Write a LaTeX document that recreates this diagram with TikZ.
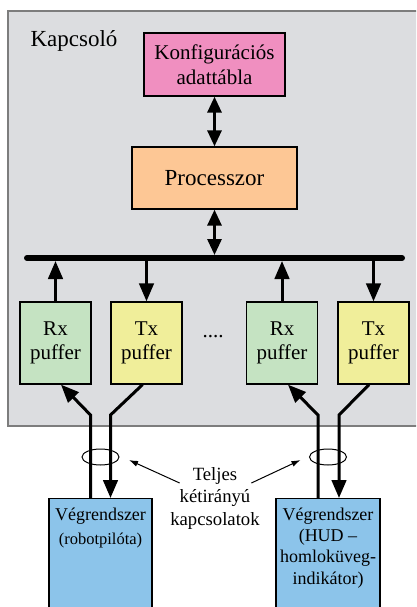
\documentclass[tikz,border=0pt]{standalone}
\usepackage{fontspec}
\setmainfont{Liberation Serif}
\usetikzlibrary{positioning, shapes.geometric, arrows.meta, calc}
\definecolor{szurke}{RGB}{220, 221, 224}
\definecolor{keret}{RGB}{125, 125, 125}
\definecolor{rozsaszin}{RGB}{240, 143, 192}
\definecolor{narancs}{RGB}{253, 199, 149}
\definecolor{zold}{RGB}{197, 227, 194}
\definecolor{sarga}{RGB}{240, 238, 154}
\definecolor{kek}{RGB}{140, 196, 234}
\tikzset{
  doboz/.style={draw=black, line width=1.3pt, inner sep=0pt, align=center},
  puffer/.style={doboz, minimum width=71pt, minimum height=82pt, font=\fontsize{21}{24}\selectfont},
  vegrendszer/.style={doboz, anchor=north, inner ysep=9pt, text depth=90pt, fill=kek},
  vonal/.style={line width=3pt},
  nyil/.style={-{Triangle[length=18pt,width=14.5pt]}},
  nyilvissza/.style={{Triangle[length=18pt,width=14.5pt]}-},
  ketnyil/.style={{Triangle[length=16pt,width=14pt]}-{Triangle[length=16pt,width=14pt]}},
  vekony/.style={line width=1pt, -{Latex[length=9pt,width=6pt]}}
}
\begin{document}
\begin{tikzpicture}[x=1pt, y=1pt]
    \useasboundingbox (0,0) rectangle (416,-607);
    \clip (0,0) rectangle (416,-607);
    % a kapcsoló szürke háttere
    \draw[fill=szurke, draw=keret, line width=1.5pt] (8,-11) rectangle (425,-426);
    \node[anchor=base west, font=\fontsize{23}{26}\selectfont] (cim) at (27,-47) {Kapcsoló};
    \node[doboz, fill=rozsaszin, minimum width=141pt, minimum height=63pt, font=\fontsize{21}{25}\selectfont] (konf) at (214.5,-64.5) {Konfigurációs\\adattábla};
    \node[doboz, fill=narancs, minimum width=165pt, minimum height=62pt, font=\fontsize{23}{26}\selectfont] (proc) at (214.5,-178) {Processzor};
    % busz
    \coordinate (buszb) at (27,-258);
    \coordinate (buszj) at (402,-258);
    \draw[line width=6pt, line cap=round] (buszb) -- (buszj);
    % pufferek
    \node[puffer, fill=zold] (rx1) at (55.5,-343) {Rx\\puffer};
    \node[puffer, fill=sarga] (tx1) at (146.5,-343) {Tx\\puffer};
    \node[puffer, fill=zold] (rx2) at (282,-343) {Rx\\puffer};
    \node[puffer, fill=sarga] (tx2) at (373.5,-343) {Tx\\puffer};
    \node[font=\fontsize{21}{24}\selectfont] (pontok) at (213,-337) {....};
    % végrendszerek
    \node[vegrendszer, minimum width=103pt, font=\fontsize{18}{24}\selectfont] (veg1) at (100.5,-498) {Végrendszer\\{\fontsize{16.5}{24}\selectfont(robotpilóta)}};
    \node[vegrendszer, minimum width=104pt, font=\fontsize{18}{21.3}\selectfont] (veg2) at (328,-498) {Végrendszer\\(HUD –\\homloküveg-\\indikátor)};
    % nyilak
    \draw[vonal, ketnyil] (konf) -- (proc);
    \draw[vonal, ketnyil, shorten >=3pt] (proc) -- (proc |- buszb);
    \draw[vonal, nyil, shorten >=3pt] (rx1.north) -- (rx1.north |- buszb);
    \draw[vonal, nyil] (tx1.north |- buszb) -- (tx1.north);
    \draw[vonal, nyil, shorten >=3pt] (rx2.north) -- (rx2.north |- buszb);
    \draw[vonal, nyil] (tx2.north |- buszb) -- (tx2.north);
    % kétirányú kapcsolatok
    \draw[vonal, nyil] ([xshift=-10pt]veg1.north) -- ++(0,83) -- ([xshift=5.5pt]rx1.south);
    \draw[vonal, nyilvissza] ([xshift=10pt]veg1.north) -- ++(0,83) -- ([xshift=-4pt]tx1.south);
    \draw[vonal, nyil] ([xshift=-10pt]veg2.north) -- ++(0,83) -- ([xshift=6pt]rx2.south);
    \draw[vonal, nyilvissza] ([xshift=11pt]veg2.north) -- ++(0,83) -- ([xshift=-4.5pt]tx2.south);
    \node[ellipse, draw, line width=1pt, minimum width=37pt, minimum height=16pt, inner sep=0pt] (gy1) at (100.5,-457) {};
    \node[ellipse, draw, line width=1pt, minimum width=37pt, minimum height=16pt, inner sep=0pt] (gy2) at (328,-457) {};
    \node[align=center, inner sep=0pt, font=\fontsize{18.7}{22.5}\selectfont] (cimke) at (215,-498) {Teljes\\kétirányú\\kapcsolatok};
    \draw[vekony] ([shift={(9.5pt,15pt)}]cimke.west) -- ([shift={(9.5pt,-3pt)}]gy1.east);
    \draw[vekony] ([shift={(-8.5pt,15pt)}]cimke.east) -- ([shift={(-8.5pt,-3pt)}]gy2.west);
\end{tikzpicture}
\end{document}
